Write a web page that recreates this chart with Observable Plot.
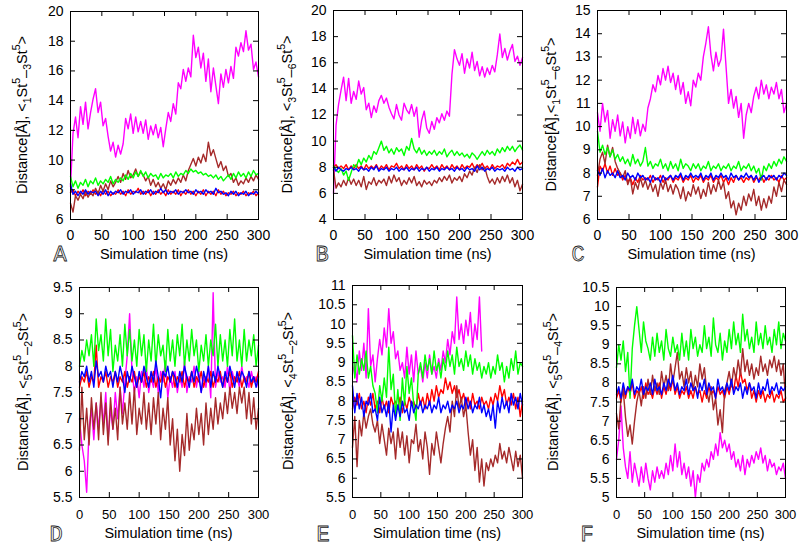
<!DOCTYPE html>
<html><head><meta charset="utf-8">
<script src="https://cdn.jsdelivr.net/npm/d3@7"></script>
<script src="https://cdn.jsdelivr.net/npm/@observablehq/plot@0.6"></script>
<style>
body{margin:0;background:#fff}
#wrap{position:relative;width:800px;height:548px;overflow:hidden;font-family:"Liberation Sans",Arial,sans-serif}
#wrap svg{position:absolute}
</style>
</head><body><div id="wrap"></div>
<script>
// time axis (ns), one sample every 4 ns
const time = d3.range(0, 301, 4);
const xTicks = [0, 50, 100, 150, 200, 250, 300];

// ---- Panel A ----
const A_magenta = [8.2,11.8,12.9,11.5,13.6,12.4,13.9,12.1,13.2,14.1, 14.8,13.2,13.9,12.3,12.8,11.6,10.6,11.2,10.2,11.0, 10.4,11.1,12.8,12.1,13.1,11.8,12.9,11.9,12.6,11.8, 12.7,11.4,12.3,11.7,12.4,11.5,12.2,10.9,12.1,13.2, 12.6,13.8,13.1,15.2,14.8,16.1,15.3,16.2,15.6,18.4, 16.9,17.6,16.2,17.2,15.3,16.8,14.6,16.2,15.0,13.8, 15.8,14.9,16.1,15.2,16.3,15.5,17.6,17.0,17.9,17.3, 18.7,17.4,17.8,16.1,16.6,15.6];
const A_red = [7.8,8.0,7.6,7.9,7.7,8.0,7.6,7.9,7.7,8.0, 7.7,7.9,7.6,8.0,7.7,7.9,7.6,7.8,7.7,8.0, 7.7,7.9,7.6,8.0,7.7,7.9,7.8,8.1,7.7,7.9, 7.7,8.0,7.6,7.9,7.7,8.0,7.7,7.9,7.6,8.0, 7.7,7.9,7.7,8.0,7.6,7.9,7.7,8.0,7.7,7.9, 7.6,7.9,7.7,8.0,7.6,7.9,7.7,7.9,7.6,8.0, 7.7,7.9,7.6,7.8,7.7,7.9,7.6,7.8,7.7,7.9, 7.6,7.8,7.7,7.9,7.6,7.8];
const A_brown = [7.1,6.5,7.6,7.3,7.7,7.4,7.9,7.5,7.8,7.6, 8.1,7.7,8.3,7.9,8.4,8.0,8.6,8.2,8.5,8.9, 8.5,9.1,8.7,9.3,8.8,9.0,9.4,8.9,9.2,9.0, 8.6,8.9,8.3,8.7,8.2,8.5,8.1,8.4,8.0,8.6, 8.3,8.7,8.4,8.8,8.5,9.0,8.6,9.3,9.7,10.1, 9.6,10.2,9.8,10.4,9.9,11.2,10.3,10.7,10.1,9.5, 9.9,9.3,9.6,8.9,9.1,8.5,8.8,8.3,8.6,8.4, 8.8,8.5,8.9,8.6,9.0,8.7];
const A_green = [8.9,8.2,8.6,8.1,8.5,8.3,8.7,8.2,8.6,8.4, 8.8,8.3,8.6,8.4,8.7,8.5,8.9,8.4,8.7,8.5, 8.8,8.6,9.0,8.7,9.1,8.8,9.2,8.9,9.3,8.9, 9.2,8.8,9.1,8.9,9.0,8.7,9.1,8.8,9.0,8.9, 9.1,8.8,9.2,8.9,9.1,9.0,9.3,9.1,9.4,9.2, 9.3,9.1,9.2,9.0,9.1,8.9,9.0,8.8,9.0,8.7, 8.9,8.6,8.8,9.0,8.7,9.1,8.8,9.2,8.9,9.1, 8.8,9.2,8.9,9.3,9.0,9.1];
const A_blue = [8.4,7.7,7.9,7.6,7.9,7.7,8.0,7.7,7.9,7.8, 7.9,7.6,7.9,7.7,8.0,7.6,7.9,7.7,7.9,7.8, 8.0,7.7,7.9,7.8,8.0,7.7,7.9,7.8,8.0,7.7, 7.9,7.8,8.0,7.7,7.9,7.8,8.1,7.8,8.0,7.7, 7.9,7.8,8.0,7.7,7.9,7.8,8.0,7.8,7.9,7.7, 8.0,7.8,7.9,7.7,8.0,7.8,7.9,7.7,8.1,7.8, 7.9,7.7,7.8,7.6,7.9,7.7,7.9,7.6,7.8,7.7, 7.9,7.6,7.8,7.7,7.9,7.7];

// ---- Panel B ----
const B_magenta = [6.0,11.2,12.8,13.9,14.9,13.1,14.8,12.9,13.8,13.2, 14.6,13.6,14.1,12.4,12.9,11.8,12.7,12.2,13.1,13.5, 12.9,13.3,12.6,12.1,11.7,12.8,12.0,11.6,12.9,12.4, 12.1,12.8,11.9,12.6,10.3,11.6,12.3,11.0,10.6,11.5, 10.9,11.8,11.4,12.1,11.6,12.3,11.9,15.1,17.0,16.3, 15.8,16.7,15.2,16.3,15.6,16.8,15.4,16.1,15.0,15.7, 14.9,15.6,15.1,15.8,15.3,16.6,18.2,16.4,17.1,16.2, 16.9,17.4,16.1,16.5,15.8,16.4];
const B_red = [8.0,8.2,7.9,8.1,7.9,8.2,7.8,8.1,7.9,8.2, 7.9,8.1,7.8,8.2,7.9,8.1,7.9,8.2,7.8,8.1, 7.9,8.2,7.8,8.1,8.0,8.3,7.9,8.1,7.8,8.2, 7.9,8.1,7.8,8.2,7.9,8.1,7.7,8.0,7.9,8.2, 7.9,8.1,7.8,8.2,7.9,8.1,7.8,8.2,7.9,8.1, 7.8,8.2,7.9,8.1,8.0,8.3,7.9,8.2,8.0,8.3, 7.9,8.1,7.8,8.2,7.9,8.1,8.0,8.2,7.9,8.3, 8.1,8.4,8.2,8.6,8.2,8.4];
const B_brown = [7.8,6.4,6.8,6.5,7.0,6.6,7.2,6.7,7.1,6.6, 7.0,6.5,7.3,6.3,6.9,6.7,7.2,6.6,7.0,6.8, 7.1,6.6,7.3,6.8,7.4,6.9,7.2,6.6,7.0,6.7, 7.2,6.8,7.3,6.6,6.9,6.5,7.0,6.7,6.9,6.6, 7.0,6.8,7.2,6.9,7.3,7.0,7.4,6.8,7.2,7.0, 7.3,6.9,7.5,7.2,7.7,7.4,8.0,7.6,8.2,7.8, 8.0,7.3,6.8,7.1,6.7,7.2,6.8,7.3,6.9,7.4, 6.8,7.2,6.5,7.0,6.2,6.7];
const B_green = [8.1,7.8,7.6,7.9,7.4,7.7,7.0,7.6,8.2,8.0, 8.6,8.2,8.7,8.4,8.9,8.6,9.2,9.0,9.5,10.0, 9.3,9.6,9.1,9.4,9.0,9.5,9.2,9.4,8.9,9.6, 9.3,10.2,9.4,9.1,9.5,9.0,9.3,8.9,9.2,9.0, 9.3,8.9,9.2,9.0,9.4,8.8,9.1,9.3,8.9,9.2, 8.9,9.1,8.8,9.0,8.7,9.1,8.9,8.6,8.9,9.2, 8.9,9.3,9.0,9.2,8.9,9.4,9.1,9.5,9.2,9.6, 9.3,9.6,9.2,9.5,9.7,9.3];
const B_blue = [8.0,7.7,8.0,7.8,7.7,7.9,7.8,8.0,7.8,7.9, 7.7,8.0,7.8,7.9,7.7,8.0,7.8,8.1,7.7,7.9, 7.8,8.0,7.7,7.9,7.8,8.0,7.7,7.9,7.8,8.0, 7.7,7.9,7.8,8.0,7.7,7.9,7.8,8.0,7.7,7.9, 7.8,8.0,7.7,7.9,7.8,8.0,7.8,7.9,7.7,8.0, 7.8,7.9,7.7,8.0,7.8,7.9,7.7,8.1,7.8,8.0, 7.7,7.9,7.8,8.0,7.7,7.9,7.8,7.9,7.7,8.0, 7.8,7.9,7.7,8.0,7.8,7.9];

// ---- Panel C ----
const C_magenta = [10.6,9.8,11.0,10.2,10.7,9.5,10.3,9.8,10.5,9.6, 10.2,9.3,10.0,9.5,10.4,9.7,10.3,9.6,10.1,9.8, 10.8,11.2,11.8,11.5,12.2,11.8,12.5,12.0,12.6,11.9, 12.3,11.6,12.2,11.4,11.9,11.0,11.5,10.9,12.0,11.7, 12.3,12.0,13.0,13.6,14.3,13.1,12.4,13.2,12.6,12.9, 14.2,12.6,11.0,11.6,10.8,11.3,10.4,11.0,9.5,10.5, 11.0,10.6,11.3,11.7,11.2,12.0,11.4,11.8,11.2,11.7, 11.4,11.9,11.2,11.6,10.6,11.0];
const C_red = [7.4,8.3,8.1,8.4,8.0,8.3,7.9,8.2,7.9,8.0, 7.7,7.9,7.6,7.8,7.5,7.8,7.6,7.9,7.7,7.8, 7.7,7.9,7.6,7.8,7.7,7.9,7.6,7.8,7.7,7.9, 7.6,7.8,7.7,7.9,7.6,7.8,7.7,7.9,7.6,7.8, 7.7,7.9,7.6,7.8,7.7,7.9,7.6,7.8,7.7,7.9, 7.6,7.8,7.5,7.8,7.6,7.9,7.7,7.8,7.6,7.8, 7.7,7.9,7.6,7.8,7.7,7.9,7.6,7.8,7.7,7.9, 7.7,7.8,7.6,7.9,7.7,7.8];
const C_brown = [7.9,8.6,8.9,8.4,9.2,8.7,9.1,8.5,8.2,8.0, 7.8,8.1,7.5,7.8,7.1,7.6,7.3,7.8,7.4,7.7, 7.3,7.6,7.2,7.5,7.0,7.6,7.3,7.7,7.2,7.5, 7.1,7.5,7.3,6.9,7.4,6.8,7.2,7.0,7.5,7.1, 7.4,6.9,7.3,7.0,7.6,7.1,7.5,7.2,7.7,7.3, 7.6,6.9,7.2,6.5,6.8,6.2,6.7,6.4,7.0,6.6, 7.1,6.8,7.3,6.6,7.0,6.4,6.9,6.5,7.0,6.7, 7.4,7.0,7.6,7.2,7.7,7.5];
const C_green = [9.8,8.9,9.2,8.8,9.1,8.7,9.0,8.6,8.8,8.5, 8.7,8.4,8.6,8.3,8.8,8.4,8.6,8.3,8.5,9.1, 8.3,8.5,8.2,8.4,8.3,8.6,8.2,8.4,8.1,8.5, 8.2,8.4,8.1,8.6,8.2,8.4,8.3,8.1,8.4,8.2, 8.4,8.1,8.3,8.2,8.5,8.1,8.3,8.2,8.4,8.1, 8.3,8.2,8.4,8.1,8.3,8.2,8.5,8.1,8.3,8.2, 8.4,8.1,8.3,8.0,8.2,7.7,8.3,8.1,8.4,8.2, 8.5,8.3,8.6,8.4,8.7,8.5];
const C_blue = [8.1,7.9,8.2,7.8,8.1,7.9,8.0,7.8,8.1,7.8, 7.9,7.7,8.0,7.8,7.9,7.7,8.0,7.8,7.9,7.7, 7.8,7.6,7.9,7.7,7.8,7.6,7.9,7.7,7.8,7.9, 7.7,7.9,7.8,8.0,7.7,7.9,7.8,8.0,7.8,7.9, 7.8,8.0,7.7,7.9,7.8,8.0,7.7,7.9,7.8,8.0, 7.8,7.9,7.7,8.0,7.8,7.9,7.7,7.9,7.8,8.0, 7.8,7.9,7.7,7.9,7.6,7.8,7.9,7.7,7.9,7.8, 7.9,7.7,7.9,7.8,8.0,7.9];

// ---- Panel D ----
const D_magenta = [7.0,6.5,6.2,5.6,6.8,7.2,6.6,7.3,6.8,7.4, 6.9,7.5,6.6,7.2,6.8,7.5,7.0,7.6,7.1,7.7, 8.2,9.0,7.9,7.5,7.8,7.4,7.9,7.6,8.0,7.5, 7.8,7.6,8.0,7.5,7.9,7.7,8.1,7.4,7.8,7.6, 7.9,7.5,7.8,7.6,8.1,7.5,7.8,7.7,8.0,7.6, 7.9,7.5,7.8,7.6,8.0,7.4,9.4,7.6,7.9,7.7, 7.8,7.6,8.0,7.5,7.9,7.7,7.8,7.6,8.0,7.7, 7.8,7.6,7.9,7.7,7.8,7.6];
const D_red = [7.6,7.8,7.7,7.9,7.6,7.8,7.7,8.4,7.6,7.8, 7.7,7.9,7.6,7.8,7.7,7.9,7.6,7.8,7.7,7.9, 7.6,7.8,7.7,7.9,7.6,7.8,7.7,7.9,7.6,7.8, 7.7,7.9,7.6,7.8,7.7,7.9,7.6,7.8,7.7,7.9, 7.6,7.8,7.7,7.9,7.6,7.8,7.7,7.9,7.6,7.8, 7.7,7.9,7.6,7.8,7.7,7.9,7.6,7.8,7.7,7.9, 7.6,7.8,7.7,7.9,7.6,7.8,7.7,7.9,7.6,7.8, 7.7,7.9,7.6,7.8,7.7,7.9];
const D_brown = [6.4,7.6,6.6,7.2,6.5,7.4,6.8,7.3,6.6,7.5, 6.7,7.3,6.5,7.4,6.8,7.2,6.6,7.6,6.9,7.3, 6.8,7.5,6.9,7.6,6.7,7.2,6.9,7.5,6.8,7.3, 6.7,7.4,6.9,7.5,6.6,7.2,6.8,7.4,6.5,7.0, 6.2,6.8,6.0,6.7,6.3,7.1,6.4,6.9,6.6,7.2, 6.7,7.1,6.5,7.3,6.7,7.2,6.8,7.4,6.9,7.3, 7.0,7.5,7.1,7.6,7.2,7.5,7.1,7.6,7.3,7.6, 7.0,7.5,6.9,7.4,6.8,7.2];
const D_green = [8.0,8.3,8.1,8.5,8.2,8.6,8.0,8.9,8.3,8.6, 8.1,8.9,8.2,8.7,7.9,8.4,8.1,8.6,8.0,8.8, 8.2,8.7,8.1,8.5,8.0,8.7,8.2,8.6,7.9,8.5, 8.1,8.8,8.0,8.6,8.2,8.4,7.9,8.7,8.1,8.5, 8.0,8.6,8.2,8.8,8.0,8.5,8.1,8.7,8.2,8.5, 7.9,8.4,8.1,8.6,8.0,8.5,8.2,8.8,8.0,8.6, 8.1,8.5,8.0,8.7,8.2,8.9,8.1,8.5,8.0,8.7, 8.1,8.5,8.2,8.6,8.0,8.4];
const D_blue = [7.7,7.9,7.8,8.0,7.7,7.9,7.6,8.1,7.8,7.9, 7.7,8.0,7.8,7.9,7.6,7.9,7.7,8.0,7.8,7.5, 7.9,7.7,8.0,7.8,7.6,7.9,7.7,8.0,7.8,7.6, 7.9,7.7,8.1,7.8,7.4,7.9,7.8,8.0,7.7,7.9, 7.8,7.6,7.9,7.7,8.0,7.8,7.6,7.9,7.7,8.0, 7.8,7.5,7.9,7.7,8.0,7.6,7.9,7.7,8.0,7.8, 7.6,7.9,7.7,8.0,7.8,7.6,7.9,7.7,7.9,7.8, 7.6,7.9,7.7,7.8,7.6,7.8];

// ---- Panel E ---- (magenta visible only up to ~228 ns)
const E_magenta = [8.7,9.0,8.5,9.3,8.8,9.5,8.6,10.4,8.9,9.2, 8.5,9.1,9.6,9.2,9.9,9.4,10.4,9.5,9.8,9.1, 9.3,8.8,9.0,8.6,9.4,8.7,9.2,8.5,9.3,8.7, 8.9,8.5,9.0,8.6,9.2,8.7,8.9,8.6,9.1,8.8, 9.3,9.0,9.6,9.2,9.8,9.5,10.7,9.6,10.0,9.5, 10.1,9.7,10.3,9.4,10.0,9.6,10.7,9.3];
const E_red = [7.8,8.1,7.9,8.2,7.8,8.0,7.7,8.1,7.9,8.2, 7.8,8.0,7.7,8.1,7.8,8.0,7.7,8.1,7.9,8.0, 7.8,8.1,7.7,8.0,7.8,8.1,7.9,8.0,7.8,8.2, 7.9,8.1,7.8,8.2,7.9,8.3,8.0,8.4,8.1,8.3, 8.2,8.6,8.3,8.5,8.2,8.4,8.1,8.3,8.0,8.2, 7.9,8.1,7.8,8.2,7.9,8.0,7.8,8.1,7.9,8.0, 7.8,8.1,7.9,8.2,8.0,8.4,8.1,8.3,7.9,8.1, 7.9,8.2,7.8,8.1,7.6,8.0];
const E_brown = [6.8,7.6,6.3,7.5,7.1,7.7,7.3,7.6,7.8,7.4, 7.2,7.5,6.9,7.4,7.0,6.6,7.3,6.9,7.2,6.5, 7.3,6.8,7.2,6.6,7.1,6.4,7.0,6.9,7.4,6.7, 7.0,6.5,7.2,6.8,6.1,6.9,6.6,7.2,6.8,6.4, 6.9,7.3,7.6,7.2,8.0,7.6,8.4,7.8,8.1,7.6, 7.9,7.2,6.6,7.0,6.2,6.8,5.9,6.5,5.8,6.4, 6.2,6.5,6.3,6.6,6.4,6.9,6.5,6.7,6.4,6.8, 6.5,6.2,6.7,6.3,6.6,6.0];
const E_green = [9.7,8.6,9.2,8.7,9.1,8.8,9.3,8.6,8.9,8.4, 8.2,7.7,8.4,8.0,8.6,8.1,9.4,8.3,8.7,7.6, 8.3,7.5,8.6,7.9,8.9,8.2,8.6,7.9,7.5,8.7, 9.0,8.6,9.2,8.8,9.1,8.7,9.3,8.8,9.0,8.6, 9.1,8.8,9.3,8.9,9.2,8.7,9.4,8.9,9.1,8.8, 9.3,8.9,9.2,8.7,9.1,8.8,9.0,8.6,8.9,8.7, 9.0,8.6,8.9,8.7,9.2,8.8,9.0,8.5,8.9,8.6, 9.1,8.8,9.3,8.7,9.0,8.9];
const E_blue = [8.4,7.7,8.2,7.8,8.1,7.6,8.0,7.9,8.2,7.7, 7.8,7.5,8.1,7.7,7.9,7.6,8.0,7.2,7.9,7.5, 7.9,7.6,8.0,7.7,7.8,7.5,8.0,7.7,7.9,7.8, 8.0,7.7,7.9,7.8,8.0,7.7,7.9,7.8,8.1,7.7, 7.9,7.8,8.0,7.7,7.9,7.8,8.0,7.7,7.9,7.8, 8.1,7.8,8.0,7.7,7.9,7.8,8.1,7.7,7.9,7.6, 7.8,7.5,7.9,7.3,8.0,7.7,8.1,7.8,8.0,7.7, 8.2,7.9,8.1,7.8,8.2,7.9];

// ---- Panel F ----
const F_magenta = [6.0,6.5,7.4,6.3,5.8,5.5,6.2,5.4,5.9,5.6, 5.3,5.8,5.4,5.9,5.5,5.2,5.7,5.4,5.8,5.5, 5.7,5.5,5.9,5.6,6.1,5.7,6.4,5.8,6.2,5.6, 5.9,5.5,5.8,5.3,5.7,5.0,5.6,5.4,5.9,5.7, 6.0,5.8,6.2,6.0,6.4,6.1,6.7,6.3,6.5,6.2, 6.4,6.0,6.2,5.8,6.0,5.7,6.1,5.6,6.0,5.8, 6.1,5.9,6.2,6.0,6.3,5.9,6.1,5.7,6.0,5.8, 5.9,5.6,5.8,5.7,5.9,5.5];
const F_red = [7.6,7.8,7.5,7.9,7.6,7.9,7.7,8.0,7.6,7.8, 7.7,7.9,7.6,8.0,7.7,7.8,7.6,7.9,7.7,8.0, 7.6,7.9,7.7,8.0,7.8,8.1,7.7,7.9,7.6,7.8, 7.7,7.9,7.6,7.8,7.6,7.9,7.7,7.8,7.5,7.8, 7.6,7.9,7.7,7.8,7.6,7.9,7.7,7.8,7.6,7.9, 7.7,8.0,7.8,8.2,7.9,8.3,8.0,8.1,7.8,8.0, 7.6,7.8,7.5,7.8,7.6,7.8,7.5,7.7,7.6,7.8, 7.5,7.7,7.6,7.8,7.5,7.6];
const F_brown = [7.2,6.8,7.6,7.8,7.1,6.6,6.9,6.4,7.0,7.5, 7.8,7.4,7.9,7.6,8.1,7.7,8.2,7.8,8.0,7.7, 8.3,7.9,8.2,7.8,8.5,8.0,8.4,8.8,8.1,8.3, 7.9,8.4,8.0,8.3,7.8,8.2,7.9,8.5,8.1,8.4, 7.8,7.5,7.9,7.3,7.6,6.9,7.3,6.7,7.8,8.0, 8.3,7.9,8.4,8.1,8.6,8.2,8.9,8.3,8.6,8.2, 8.5,8.1,8.4,8.2,8.7,8.3,8.5,8.2,8.6,8.4, 8.7,8.3,8.6,8.2,8.5,7.6];
const F_green = [8.4,9.0,8.6,9.1,8.3,8.8,7.6,8.9,9.5,10.0, 9.4,8.8,9.6,9.1,8.9,8.6,9.2,8.7,9.3,8.8, 9.1,8.6,9.4,8.9,8.7,9.2,8.8,9.0,8.6,9.3, 8.7,9.1,8.6,9.4,8.9,9.2,8.7,9.0,8.8,9.5, 8.9,9.2,8.7,9.7,9.0,8.8,9.3,8.6,9.1,8.8, 9.4,8.9,9.6,9.0,9.3,8.8,9.8,9.1,9.4,8.9, 9.2,8.8,9.6,9.0,9.3,8.9,9.5,9.0,9.2,8.8, 9.4,9.0,9.6,8.9,9.3,9.1];
const F_blue = [7.7,7.9,7.6,8.0,7.7,7.9,7.8,8.1,7.7,7.9, 7.8,8.1,7.7,7.9,7.8,8.0,7.7,8.1,7.8,7.9, 7.7,8.0,7.8,8.1,7.9,8.2,7.8,8.0,7.7,7.9, 7.8,8.1,7.7,8.0,7.8,7.9,7.6,8.0,7.8,8.1, 7.7,8.0,7.8,7.9,7.6,8.1,7.8,7.9,7.7,8.0, 7.8,8.1,7.7,7.9,7.8,8.0,7.6,7.9,7.7,8.0, 7.8,7.9,7.6,8.0,7.7,7.9,7.8,8.1,7.7,7.9, 7.8,8.0,7.7,7.9,7.8,7.9];

// series drawing order and colours
const seriesNames = ["magenta", "red", "brown", "green", "blue"];
const seriesColors = {magenta: "#ff00ff", red: "#ff0000", brown: "#a52a2a", green: "#00ff00", blue: "#0000ff"};

// panel definitions (frame = page coordinates of plot frame: left, top, right, bottom)
const panels = [
  {key: "A", frame: [70, 11, 258, 219], yDomain: [6, 20], yTicks: [6, 8, 10, 12, 14, 16, 18, 20], pair: ["1", "3"], sep: " ",
   data: {magenta: A_magenta, red: A_red, brown: A_brown, green: A_green, blue: A_blue}},
  {key: "B", frame: [333, 10, 522, 219], yDomain: [4, 20], yTicks: [4, 6, 8, 10, 12, 14, 16, 18, 20], pair: ["3", "6"], sep: " ",
   data: {magenta: B_magenta, red: B_red, brown: B_brown, green: B_green, blue: B_blue}},
  {key: "C", frame: [597, 10, 786, 219], yDomain: [6, 15], yTicks: [6, 7, 8, 9, 10, 11, 12, 13, 14, 15], pair: ["1", "6"], sep: "",
   data: {magenta: C_magenta, red: C_red, brown: C_brown, green: C_green, blue: C_blue}},
  {key: "D", frame: [79, 287, 258, 497], yDomain: [5.5, 9.5], yTicks: [5.5, 6, 6.5, 7, 7.5, 8, 8.5, 9, 9.5], pair: ["5", "2"], sep: " ",
   data: {magenta: D_magenta, red: D_red, brown: D_brown, green: D_green, blue: D_blue}},
  {key: "E", frame: [352, 285, 522, 497], yDomain: [5.5, 11], yTicks: [5.5, 6, 6.5, 7, 7.5, 8, 8.5, 9, 9.5, 10, 10.5, 11], pair: ["4", "2"], sep: " ",
   data: {magenta: E_magenta, red: E_red, brown: E_brown, green: E_green, blue: E_blue}},
  {key: "F", frame: [616, 287, 785, 497], yDomain: [5, 10.5], yTicks: [5, 5.5, 6, 6.5, 7, 7.5, 8, 8.5, 9, 9.5, 10, 10.5], pair: ["5", "4"], sep: " ",
   data: {magenta: F_magenta, red: F_red, brown: F_brown, green: F_green, blue: F_blue}}
];

const wrap = document.getElementById("wrap");
const FONT = '"Liberation Sans", Arial, Helvetica, sans-serif';
const plainFormat = d => String(d);

panels.forEach((p, pi) => {
  const [fl, ft, fr, fb] = p.frame;
  const W = fr - fl, H = fb - ft;
  const mL = 45, mR = 22, mT = 6, mB = 26;
  const row2 = pi >= 3;
  const tk = 5;
  const chart = Plot.plot({
    width: W + mL + mR, height: H + mT + mB,
    marginLeft: mL, marginRight: mR, marginTop: mT, marginBottom: mB,
    style: {fontFamily: FONT, fontSize: "14px", background: "transparent", color: "#000", overflow: "visible"},
    x: {domain: [0, 300], label: null},
    y: {domain: p.yDomain, label: null},
    marks: [
      ...seriesNames.map(s => Plot.line(p.data[s], {x: (d, i) => time[i], y: d => d, stroke: seriesColors[s], strokeWidth: 1.4})),
      Plot.frame({stroke: "#000", strokeWidth: 1}),
      Plot.tickX(xTicks, {x: d => d, insetTop: H - tk, stroke: "#000"}),
      Plot.tickX(xTicks, {x: d => d, insetBottom: H - tk, stroke: "#000"}),
      Plot.tickY(p.yTicks, {y: d => d, insetRight: W - tk, stroke: "#000"}),
      Plot.tickY(p.yTicks, {y: d => d, insetLeft: W - tk, stroke: "#000"}),
      Plot.axisX({ticks: xTicks, tickSize: 0, tickPadding: row2 ? 12 : 11, fontSize: row2 ? 13 : 14, label: null, tickFormat: plainFormat}),
      Plot.axisY({ticks: p.yTicks, tickSize: 0, tickPadding: 7, fontSize: 14, label: null, tickFormat: plainFormat})
    ]
  });
  chart.style.left = (fl - mL) + "px";
  chart.style.top = (ft - mT) + "px";
  wrap.appendChild(chart);
});

// overlay for axis titles and panel letters
const ov = d3.select(wrap).append("svg")
  .attr("width", 800).attr("height", 548)
  .style("left", "0px").style("top", "0px")
  .attr("font-family", FONT);

const yLabelX = [27, 292, 556, 28, 293, 558];
panels.forEach((p, pi) => {
  const [fl, ft, fr, fb] = p.frame;
  const row2 = pi >= 3;
  // x title
  ov.append("text").attr("x", (fl + fr) / 2).attr("y", row2 ? 538 : 259)
    .attr("text-anchor", "middle").attr("font-size", 14.5).text("Simulation time (ns)");
  // panel letter
  ov.append("text").attr("x", row2 ? [56, 323, 587][pi - 3] : [60, 322, 578][pi]).attr("y", row2 ? 541 : 261)
    .attr("text-anchor", "middle").attr("font-family", '"Liberation Mono", "DejaVu Sans Mono", monospace')
    .attr("font-size", 22).attr("fill", "#fff").attr("stroke", "#222").attr("stroke-width", 0.8).text(p.key);
  // y title with sub/superscripts
  const t = ov.append("text")
    .attr("transform", `translate(${yLabelX[pi]},${(ft + fb) / 2}) rotate(-90)`)
    .attr("text-anchor", "middle").attr("font-size", 14.5);
  t.append("tspan").text("Distance[Å]," + p.sep + "<");
  t.append("tspan").attr("font-size", 10.5).attr("dy", 4).text(p.pair[0]);
  t.append("tspan").attr("dy", -4).text("St");
  t.append("tspan").attr("font-size", 10.5).attr("dy", -7).text("5");
  t.append("tspan").attr("dy", 10).text("–");
  t.append("tspan").attr("font-size", 10.5).attr("dy", 1).text(p.pair[1]);
  t.append("tspan").attr("dy", -4).text("St");
  t.append("tspan").attr("font-size", 10.5).attr("dy", -7).text("5");
  t.append("tspan").attr("dy", 7).text(">");
});
</script>
</body></html>
